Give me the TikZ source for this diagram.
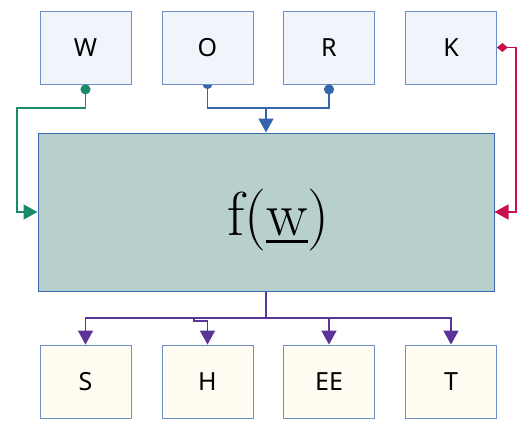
\documentclass[tikz,border=0pt]{standalone}
\usepackage{fontspec}
\newfontfamily\boxfont{Noto Sans}
\usetikzlibrary{arrows.meta,backgrounds}
\definecolor{topfill}{HTML}{F1F4FA}
\definecolor{botfill}{HTML}{FFFDF2}
\definecolor{boxline}{HTML}{6C8FC7}
\definecolor{mainfill}{HTML}{B8D0CC}
\definecolor{mainline}{HTML}{3A66B0}
\definecolor{cgreen}{HTML}{1B8A6B}
\definecolor{cblue}{HTML}{3366AA}
\definecolor{cred}{HTML}{C8104C}
\definecolor{cpurple}{HTML}{5A3496}
\newcommand\myuline[1]{\setbox0\hbox{#1}\rlap{\rule[-8pt]{\wd0}{2.8pt}}\box0}
\tikzset{
  letterbox/.style={draw=boxline,line width=0.8pt,minimum width=91pt,minimum height=73pt,inner sep=0pt,font=\boxfont\fontsize{25}{30}\selectfont},
  topbox/.style={letterbox,fill=topfill},
  botbox/.style={letterbox,fill=botfill},
  conn/.style={line width=1.4pt},
  tip/.style={-{Triangle[length=14pt,width=15pt]}}
}
\begin{document}
\begin{tikzpicture}[x=1pt,y=-1pt]
\useasboundingbox (0,0) rectangle (523,429);
\node[topbox] (W) at (85.5,47.5) {W};
\node[topbox] (O) at (207.5,47.5) {O};
\node[topbox] (R) at (329,47.5) {R};
\node[topbox] (K) at (451,47.5) {K};
\node[draw=mainline,fill=mainfill,line width=1pt,minimum width=456pt,minimum height=158pt,inner sep=0pt] (main) at (266,212) {};
\node[anchor=base,inner sep=0pt,font=\fontsize{62}{70}\selectfont] (ftext) at (278.5,235) {f(\myuline{w})};
\node[botbox] (S) at (85.5,381.5) {S};
\node[botbox] (H) at (207.5,381.5) {H};
\node[botbox] (EE) at (329,381.5) {EE};
\node[botbox] (T) at (451,381.5) {T};
\coordinate (wl) at (17,108);
\coordinate (jt) at (266,108);
\coordinate (Ostart) at (207.5,79);
\coordinate (kc) at (516,212);
\coordinate (bj) at (266,318);
\coordinate (hj1) at (194,318);
\coordinate (hj2) at (194,321);
% W
\draw[conn,cgreen,{Circle[length=10pt]}-{Triangle[length=14pt,width=15pt]}] (W.south) |- (wl) |- (main.west);
% O and R
\begin{pgfonlayer}{background}
\draw[conn,cblue,{Circle[length=10pt]}-{Triangle[length=14pt,width=15pt]}] (Ostart) |- (jt) -- (main.north);
\end{pgfonlayer}
\draw[conn,cblue,{Circle[length=10pt]}-] (R.south) |- (jt);
% K
\draw[conn,cred,{Diamond[length=11pt,width=9pt]}-{Triangle[length=14pt,width=15pt]}] (K.east) -| (kc) -- (main.east);
% bottom
\draw[conn,cpurple] (main.south) -- (bj);
\draw[conn,cpurple,tip] (bj) -| (S.north);
\draw[conn,cpurple,tip] (bj) -- (hj1) -- (hj2) -| (H.north);
\draw[conn,cpurple,tip] (bj) -| (EE.north);
\draw[conn,cpurple,tip] (bj) -| (T.north);
\end{tikzpicture}
\end{document}
